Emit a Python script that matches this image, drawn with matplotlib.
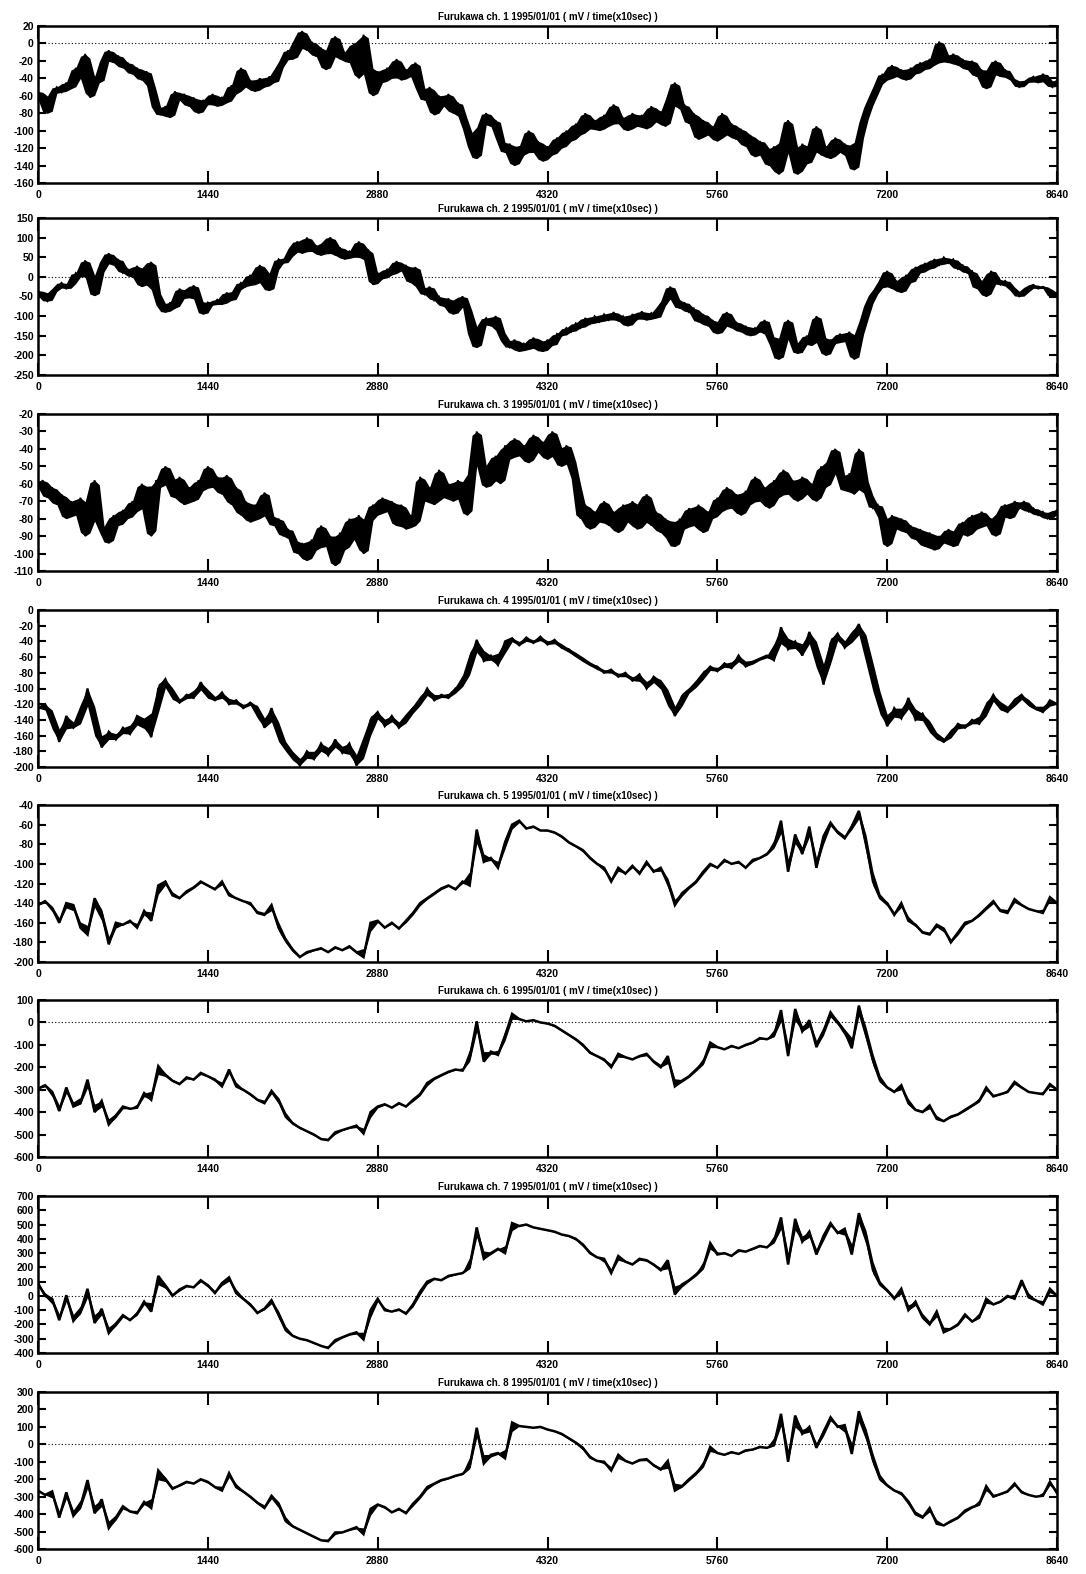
import numpy as np
import pandas as pd
import matplotlib
matplotlib.use("Agg")
import matplotlib.pyplot as plt

plt.rcParams['font.family'] = ['Liberation Sans', 'DejaVu Sans']
plt.rcParams['font.weight'] = 'bold'

# ---------------- data (mV), sampled evenly over 0..8640 (x10 sec) ----------------
ch1 = [-55,-65,-80,-58,-50,-56,-45,-52,-28,-40,-12,-62,
       -38,-45,-18,-8,-22,-14,-28,-22,-35,-28,-42,-32,
       -50,-75,-82,-72,-85,-55,-65,-58,-72,-62,-80,-65,
       -70,-58,-72,-62,-68,-48,-58,-28,-50,-42,-55,-40,
       -50,-38,-45,-28,-20,-8,-18,5,14,-8,2,-15,
       -5,-30,-8,8,-18,-10,-22,0,-40,10,-25,-60,
       -32,-45,-28,-40,-18,-42,-30,-38,-22,-55,-65,-50,
       -82,-60,-72,-58,-80,-68,-85,-100,-120,-132,-92,-80,
       -95,-88,-112,-125,-115,-140,-118,-128,-100,-125,-112,-135,
       -118,-128,-108,-120,-100,-112,-92,-105,-80,-98,-88,-100,
       -82,-95,-70,-92,-85,-100,-80,-95,-82,-98,-72,-90,
       -78,-95,-60,-45,-75,-70,-92,-80,-110,-88,-105,-95,
       -112,-80,-105,-92,-110,-98,-118,-105,-130,-112,-122,-140,
       -118,-150,-110,-88,-130,-150,-115,-138,-120,-95,-128,-118,
       -132,-108,-125,-115,-130,-145,-110,-88,-72,-60,-48,-35,
       -42,-25,-38,-30,-42,-28,-35,-22,-30,-18,-25,2,
       -15,-22,-12,-25,-18,-30,-20,-38,-30,-52,-28,-20,
       -38,-30,-40,-42,-50,-45,-42,-38,-45,-35,-42,-50,
       -42]

ch2 = [-35,-50,-62,-38,-28,-15,-30,-20,10,0,42,-5,
       -48,10,40,60,30,45,10,20,0,28,-25,15,
       38,-40,-75,-90,-65,-80,-30,-55,-40,-22,-60,-95,
       -65,-72,-58,-70,-40,-60,-35,-15,-25,5,-20,30,
       -10,-35,15,45,35,50,75,90,60,100,65,80,
       55,90,100,55,75,45,65,50,90,45,70,-20,
       10,-5,20,5,40,15,30,-15,25,-30,-45,-25,
       -60,-50,-75,-55,-95,-65,-50,-80,-150,-180,-120,-105,
       -125,-100,-140,-165,-180,-160,-190,-170,-185,-155,-175,-190,
       -160,-175,-145,-150,-130,-140,-118,-130,-105,-120,-100,-115,
       -95,-110,-90,-112,-100,-125,-95,-108,-88,-110,-92,-105,
       -75,-60,-25,-55,-80,-65,-90,-80,-115,-95,-125,-110,
       -145,-115,-90,-130,-115,-140,-125,-150,-130,-140,-110,-150,
       -175,-210,-150,-110,-165,-195,-170,-150,-175,-100,-150,-200,
       -160,-170,-145,-165,-140,-210,-150,-110,-70,-45,-30,-10,
       15,-30,-10,-40,5,-15,25,10,35,20,45,30,
       50,35,45,20,30,10,15,-30,-10,-50,15,-5,
       -20,-10,-25,-35,-50,-40,-25,-20,-30,-25,-30,-50,
       -40]

ch3 = [-62,-58,-68,-62,-72,-66,-80,-70,-78,-68,-90,-72,
       -58,-84,-88,-94,-78,-84,-75,-80,-70,-76,-60,-74,
       -90,-58,-62,-50,-60,-68,-56,-72,-62,-70,-58,-64,
       -50,-62,-56,-66,-55,-72,-62,-78,-70,-82,-72,-80,
       -65,-78,-84,-80,-90,-86,-92,-100,-94,-104,-92,-98,
       -84,-96,-90,-107,-88,-98,-80,-92,-78,-100,-82,-72,
       -78,-68,-76,-70,-84,-72,-86,-78,-84,-56,-70,-62,
       -72,-52,-68,-60,-70,-58,-66,-78,-52,-30,-48,-62,
       -54,-44,-60,-38,-46,-34,-44,-38,-48,-32,-42,-36,
       -46,-30,-42,-50,-38,-46,-58,-80,-72,-86,-76,-82,
       -70,-84,-76,-88,-72,-82,-70,-86,-78,-66,-84,-76,
       -88,-80,-92,-96,-80,-86,-74,-84,-72,-88,-76,-80,
       -68,-76,-62,-74,-66,-78,-64,-72,-56,-70,-62,-74,
       -58,-68,-52,-66,-58,-70,-56,-66,-60,-70,-50,-62,
       -46,-40,-56,-64,-54,-66,-40,-58,-66,-74,-72,-80,
       -96,-78,-86,-80,-88,-84,-92,-86,-96,-88,-98,-90,
       -94,-86,-96,-88,-82,-90,-78,-86,-76,-84,-80,-90,
       -76,-72,-80,-70,-74,-70,-76,-74,-78,-76,-80,-78,
       -75]

ch4 = [-125,-120,-135,-168,-135,-150,-140,-100,-145,-175,-155,-165,
       -150,-158,-135,-140,-162,-100,-88,-110,-118,-108,-112,-92,
       -110,-115,-105,-120,-115,-125,-118,-125,-150,-125,-160,-175,
       -185,-198,-180,-190,-170,-185,-165,-182,-170,-198,-180,-140,
       -130,-148,-135,-150,-138,-125,-118,-100,-115,-108,-112,-100,
       -95,-70,-38,-65,-58,-70,-40,-36,-45,-35,-42,-34,
       -44,-38,-48,-50,-58,-62,-70,-72,-80,-76,-85,-80,
       -90,-82,-100,-85,-92,-110,-135,-110,-102,-95,-82,-72,
       -78,-68,-74,-58,-72,-66,-62,-58,-64,-22,-50,-40,
       -58,-28,-52,-95,-42,-30,-48,-35,-18,-45,-90,-118,
       -148,-125,-138,-112,-140,-132,-150,-162,-168,-158,-145,-150,
       -140,-145,-125,-108,-125,-130,-115,-108,-120,-125,-130,-115,
       -120]

ch5 = [-142,-138,-145,-160,-140,-142,-165,-172,-135,-150,-182,-160,
       -162,-158,-165,-148,-158,-122,-118,-132,-135,-128,-124,-118,
       -122,-126,-118,-132,-135,-138,-140,-150,-152,-142,-165,-178,
       -188,-195,-190,-188,-186,-190,-185,-188,-184,-190,-195,-160,
       -158,-165,-160,-166,-158,-150,-140,-135,-130,-125,-122,-126,
       -118,-122,-65,-98,-94,-104,-78,-60,-56,-64,-62,-66,
       -66,-68,-72,-78,-82,-86,-94,-100,-104,-118,-104,-110,
       -102,-110,-98,-108,-104,-118,-142,-130,-124,-118,-108,-100,
       -104,-96,-100,-98,-104,-96,-94,-90,-82,-56,-108,-70,
       -90,-62,-104,-72,-58,-68,-74,-62,-46,-78,-118,-135,
       -140,-152,-140,-158,-162,-170,-172,-162,-166,-180,-170,-160,
       -158,-152,-145,-138,-148,-150,-136,-142,-146,-148,-150,-134,
       -140]

ch6 = [-295,-280,-310,-395,-290,-375,-360,-255,-400,-350,-455,-415,
       -375,-385,-380,-315,-345,-195,-235,-260,-275,-245,-255,-225,
       -240,-255,-285,-210,-285,-300,-320,-345,-360,-305,-345,-420,
       -450,-470,-485,-500,-520,-525,-490,-480,-470,-460,-495,-400,
       -375,-365,-380,-360,-375,-345,-320,-270,-250,-235,-220,-210,
       -215,-160,5,-175,-130,-145,-60,38,15,5,10,0,
       -5,-15,-35,-55,-75,-100,-135,-150,-165,-200,-140,-155,
       -165,-150,-140,-175,-200,-150,-285,-260,-240,-210,-180,-90,
       -110,-120,-105,-115,-100,-90,-70,-75,-60,55,-150,60,
       -40,10,-110,-40,45,0,-40,-115,75,-50,-170,-260,
       -290,-310,-280,-360,-390,-400,-370,-430,-440,-420,-410,-390,
       -370,-350,-290,-330,-320,-310,-265,-290,-310,-315,-320,-275,
       -300]

ch7 = [90,0,-20,-170,5,-175,-110,50,-190,-90,-260,-195,
       -135,-170,-125,-40,-110,140,70,0,45,70,60,110,
       75,20,90,130,20,-20,-60,-120,-90,-30,-130,-240,
       -280,-300,-310,-330,-350,-365,-310,-290,-270,-255,-305,-100,
       -20,-100,-110,-95,-125,-60,30,100,120,110,140,150,
       160,200,480,260,300,330,300,510,490,500,480,470,
       460,450,430,420,400,360,300,270,260,160,280,240,
       220,260,250,220,180,250,10,80,110,150,200,370,
       290,300,280,320,310,330,350,340,380,550,220,540,
       380,450,290,420,510,440,470,290,580,420,180,80,
       40,-20,50,-100,-40,-150,-200,-110,-255,-230,-200,-130,
       -180,-150,-20,-60,-40,0,-20,110,-10,-30,-60,50,
       0]

ch8 = [-265,-290,-270,-420,-275,-410,-355,-205,-395,-315,-480,-420,
       -355,-385,-395,-330,-365,-150,-200,-255,-235,-215,-225,-200,
       -215,-245,-265,-165,-245,-270,-300,-335,-365,-295,-340,-440,
       -470,-490,-510,-530,-550,-555,-505,-505,-490,-475,-515,-370,
       -345,-360,-390,-370,-395,-340,-300,-245,-225,-205,-195,-180,
       -170,-130,95,-110,-60,-50,-80,125,105,100,95,100,
       85,75,60,35,10,-20,-75,-95,-100,-150,-60,-95,
       -110,-90,-85,-120,-145,-95,-265,-240,-200,-165,-120,-15,
       -50,-60,-45,-55,-35,-30,-15,-20,-5,175,-100,165,
       60,100,-20,70,155,100,110,-55,190,60,-90,-200,
       -235,-265,-280,-330,-400,-420,-365,-455,-465,-440,-420,-380,
       -360,-345,-240,-300,-285,-270,-225,-275,-290,-300,-295,-215,
       -280]

series = [ch1, ch2, ch3, ch4, ch5, ch6, ch7, ch8]
channel_numbers = [1, 2, 3, 4, 5, 6, 7, 8]
x_end = 8640
xticks = [0, 1440, 2880, 4320, 5760, 7200, 8640]
yticks = [
    [20, 0, -20, -40, -60, -80, -100, -120, -140, -160],
    [150, 100, 50, 0, -50, -100, -150, -200, -250],
    [-20, -30, -40, -50, -60, -70, -80, -90, -100, -110],
    [0, -20, -40, -60, -80, -100, -120, -140, -160, -180, -200],
    [-40, -60, -80, -100, -120, -140, -160, -180, -200],
    [100, 0, -100, -200, -300, -400, -500, -600],
    [700, 600, 500, 400, 300, 200, 100, 0, -100, -200, -300, -400],
    [300, 200, 100, 0, -100, -200, -300, -400, -500, -600],
]
zero_line = [True, True, False, False, False, True, True, True]
line_widths = [1.3, 1.3, 1.3, 1.6, 1.8, 1.8, 1.8, 1.8]
# how much of the local sample range (swept by the noisy trace) is drawn as a solid band
band_fraction = [0.9, 0.9, 0.9, 0.5, 0.25, 0.25, 0.25, 0.25]

# ---------------- layout ----------------
W, H = 1086, 1574
fig = plt.figure(figsize=(W / 100, H / 100), dpi=100)
fig.patch.set_facecolor('white')

left_px, right_px = 38, 1057
tops_px = [26, 218, 414, 610, 805, 1000, 1196, 1392]
h_px = 157

for i, vals in enumerate(series):
    top = tops_px[i]
    ax = fig.add_axes([left_px / W, 1 - (top + h_px) / H,
                       (right_px - left_px) / W, h_px / H])
    x = np.linspace(0, x_end, len(vals))
    s = pd.Series(vals, dtype=float)
    f = band_fraction[i]
    if f > 0:
        hi = s.rolling(3, center=True, min_periods=1).max()
        lo = s.rolling(3, center=True, min_periods=1).min()
        ax.fill_between(x, s + f * (hi - s), s + f * (lo - s),
                        color='black', lw=0)
    ax.plot(x, vals, color='black', lw=line_widths[i], solid_joinstyle='miter')
    if zero_line[i]:
        ax.axhline(0, color='black', lw=0.8, ls=(0, (1, 2)))
    ax.set_xlim(0, x_end)
    ax.set_ylim(min(yticks[i]), max(yticks[i]))
    ax.set_xticks(xticks)
    ax.set_xticklabels([str(t) for t in xticks])
    ax.set_yticks(yticks[i])
    ax.set_yticklabels([str(t) for t in yticks[i]])
    ax.tick_params(axis='x', direction='in', length=9, width=1.5,
                   top=True, bottom=True, labelsize=7.5, pad=5)
    ax.tick_params(axis='y', direction='in', length=6, width=1.5,
                   left=True, right=True, labelsize=7.5, pad=3)
    for sp in ax.spines.values():
        sp.set_linewidth(1.8)
    ax.set_title(f"Furukawa ch. {channel_numbers[i]} 1995/01/01 ( mV / time(x10sec) )",
                 fontsize=7, fontweight='bold', pad=4)

fig.savefig('out.png', dpi=100, facecolor='white')
